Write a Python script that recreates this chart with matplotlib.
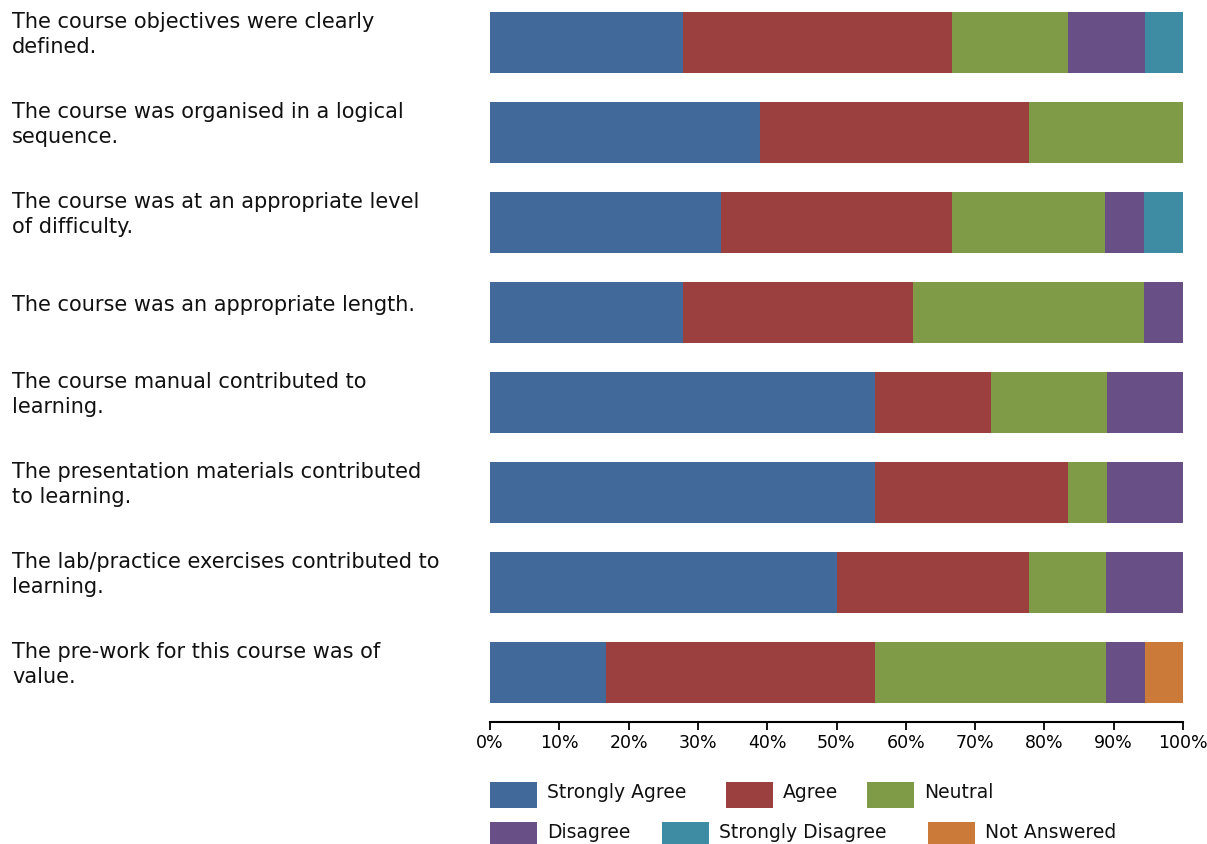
import numpy as np
import matplotlib.pyplot as plt
from matplotlib.patches import Rectangle

questions = [
    "The course objectives were clearly\ndefined.",
    "The course was organised in a logical\nsequence.",
    "The course was at an appropriate level\nof difficulty.",
    "The course was an appropriate length.",
    "The course manual contributed to\nlearning.",
    "The presentation materials contributed\nto learning.",
    "The lab/practice exercises contributed to\nlearning.",
    "The pre-work for this course was of\nvalue.",
]
responses = ["Strongly Agree", "Agree", "Neutral", "Disagree", "Strongly Disagree", "Not Answered"]

# percent of respondents per answer
strongly_agree = [27.8, 38.9, 33.3, 27.8, 55.6, 55.6, 50.0, 16.7]
agree = [38.9, 38.9, 33.3, 33.3, 16.7, 27.8, 27.8, 38.9]
neutral = [16.7, 22.2, 22.2, 33.3, 16.7, 5.6, 11.1, 33.3]
disagree = [11.1, 0.0, 5.6, 5.6, 11.1, 11.1, 11.1, 5.6]
strongly_disagree = [5.6, 0.0, 5.6, 0.0, 0.0, 0.0, 0.0, 0.0]
not_answered = [0.0, 0.0, 0.0, 0.0, 0.0, 0.0, 0.0, 5.6]

colors = ["#416a9b", "#9c3f3f", "#809b48", "#684f86", "#3d8ca3", "#cc7a3a"]

series = [strongly_agree, agree, neutral, disagree, strongly_disagree, not_answered]

W, H = 1207, 844
fig = plt.figure(figsize=(W / 100, H / 100), dpi=100)
ax = fig.add_axes([490 / W, 1 - 722 / H, 693 / W, 710 / H])

y = np.arange(len(questions))
left = np.zeros(len(questions))
for vals, c in zip(series, colors):
    vals = np.array(vals)
    ax.barh(y, vals, left=left, height=0.68, color=c, linewidth=0)
    left += vals

ax.set_xlim(0, 100)
ax.set_ylim(7.55, -0.34)
ax.set_xticks(np.arange(0, 101, 10))
ax.set_xticklabels([f"{t}%" for t in range(0, 101, 10)],
                   family=["Liberation Sans Narrow", "DejaVu Sans"], fontsize=12.5)
ax.tick_params(axis="x", direction="out", length=6, width=1.3, color="black", pad=3)
ax.set_yticks([])
for s in ["top", "left", "right"]:
    ax.spines[s].set_visible(False)
ax.spines["bottom"].set_linewidth(1.5)

# question labels on the left, a little above the bar centre
for i, q in enumerate(questions):
    ax.annotate(q, xy=(12 / W, i - 0.089), xycoords=("figure fraction", "data"),
                ha="left", va="center", fontsize=15, family="DejaVu Sans",
                linespacing=1.32, color="#111111", annotation_clip=False)

# legend, drawn as a flow of swatches below the axis
leg_x = [490, 726, 867, 490, 662, 928]
leg_y = [782, 782, 782, 822, 822, 822]
for name, c, lx, ly in zip(responses, colors, leg_x, leg_y):
    fig.patches.append(Rectangle((lx / W, 1 - (ly + 26) / H), 47 / W, 26 / H,
                                 transform=fig.transFigure, color=c, linewidth=0))
    fig.text((lx + 57) / W, 1 - (ly + 10) / H, name, ha="left", va="center",
             fontsize=13.5, family="DejaVu Sans", color="#111111")

fig.savefig("out.png", dpi=100)
